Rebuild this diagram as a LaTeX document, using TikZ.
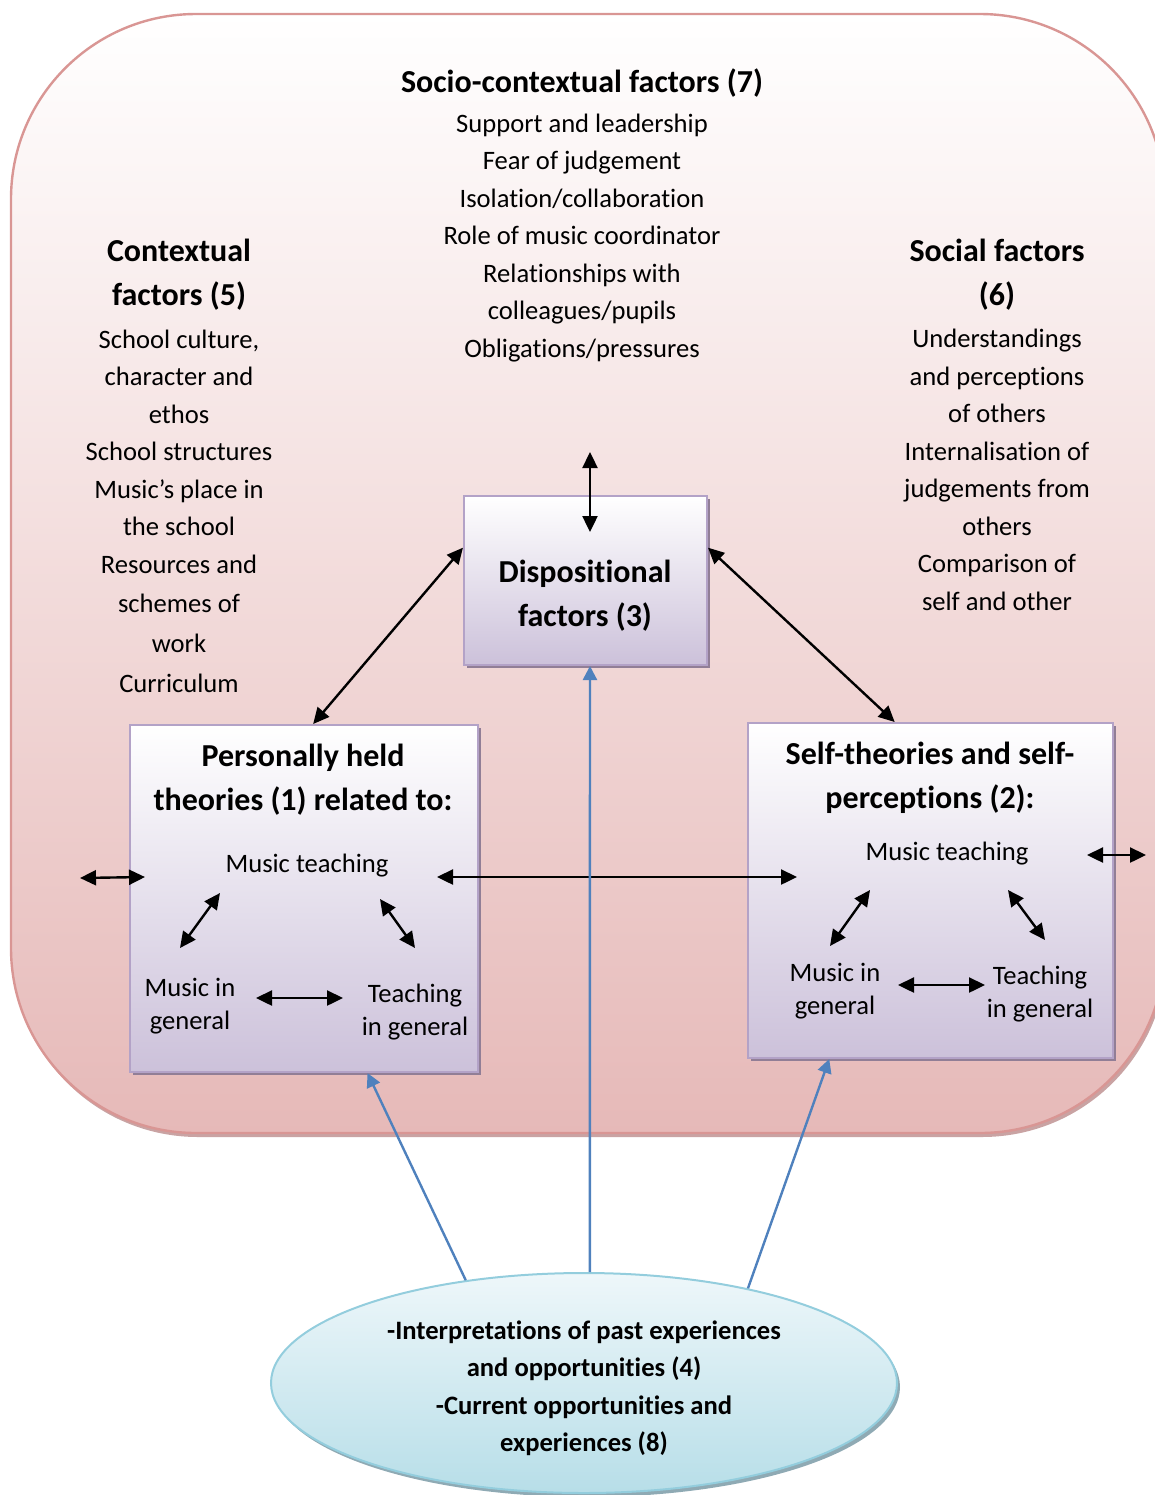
\documentclass[tikz,border=0pt]{standalone}
\usepackage{fontspec}
\setmainfont{Carlito}[Ligatures={TeX,NoCommon}]
\usetikzlibrary{arrows.meta,shapes.geometric,shadows}

\definecolor{framebot}{HTML}{E6B9B8}
\definecolor{frameline}{HTML}{D99694}
\definecolor{framedark}{HTML}{C9A3A3}
\definecolor{boxbot}{HTML}{CCC1DA}
\definecolor{boxline}{HTML}{B3A2C7}
\definecolor{boxdark}{HTML}{917E96}
\definecolor{ovaltop}{HTML}{EEF7FA}
\definecolor{ovalbot}{HTML}{B7DEE8}
\definecolor{ovalline}{HTML}{93CDDD}
\definecolor{ovaldark}{HTML}{8FAAB4}
\definecolor{feedblue}{HTML}{4F81BD}

\begin{document}
\begin{tikzpicture}[x=0.5pt, y=-0.5pt,
        factorbox/.style={rectangle, draw=boxline, line width=1pt, top color=white, bottom color=boxbot,
            drop shadow={shadow xshift=1.5pt, shadow yshift=-1.5pt, fill=boxdark, opacity=1}},
        heading/.style={font=\bfseries\fontsize{16}{22}\selectfont, align=center, inner sep=0pt},
        body/.style={font=\fontsize{13.3}{18.75}\selectfont, align=center, inner sep=0pt},
        inner/.style={font=\fontsize{13.3}{16.5}\selectfont, align=center, inner sep=0pt},
        link/.style={>={Triangle[length=8pt, width=7.5pt]}, <->, line width=1.2pt},
        feed/.style={>={Triangle[length=7pt, width=7pt]}, ->, draw=feedblue, line width=1.2pt}]

        \useasboundingbox (0,0) rectangle (1155,1495);
        \clip (0,0) rectangle (1155,1495);

        % Frame
        \fill[framedark, rounded corners=92.5pt] (13,17) rectangle (1167,1137);
        \draw[draw=frameline, line width=1.2pt, top color=white, bottom color=framebot, rounded corners=92.5pt] (11,14) rectangle (1165,1133);

        % Boxes
        \node[factorbox, minimum width=121.5pt, minimum height=84.5pt] at (585.5, 580.5) (disp) {};
        \node[factorbox, minimum width=174pt, minimum height=173.5pt] at (304, 898.5) (lbox) {};
        \node[factorbox, minimum width=182.5pt, minimum height=167.5pt] at (930.5, 890.5) (rbox) {};
        \node[ellipse, draw=ovalline, line width=1pt, top color=ovaltop, bottom color=ovalbot, minimum width=313pt, minimum height=110pt,
            drop shadow={shadow xshift=1.5pt, shadow yshift=-2pt, fill=ovaldark, opacity=1}] at (584, 1383) (oval) {};

        % Texts
        \node[heading] at (582, 83) (socioh) {Socio-contextual factors (7)};
        \node[body] at (582, 238) (socio) {Support and leadership\\Fear of judgement\\Isolation/collaboration\\Role of music coordinator\\Relationships with\\colleagues/pupils\\Obligations/pressures};

        \node[heading] at (179, 275) (ctxh) {Contextual\\factors (5)};
        \node[body] at (179, 511) (ctx) {School culture,\\character and\\ethos\\School structures\\Music’s place in\\the school\\Resources and\\[0.75pt]schemes of\\[1.25pt]work\\[1.25pt]Curriculum};

        \node[heading] at (997, 275) (soch) {Social factors\\(6)};
        \node[body] at (997, 470) (soc) {Understandings\\and perceptions\\of others\\Internalisation of\\judgements from\\others\\Comparison of\\self and other};

        \node[heading] at (585, 596) (disph) {Dispositional\\factors (3)};

        \node[heading] at (303, 780) (lboxh) {Personally held\\theories (1) related to:};
        \node[inner] at (307, 866) (mtL) {Music teaching};
        \node[inner] at (190, 1006) (mgL) {Music in\\general};
        \node[inner] at (415, 1012) (tgL) {Teaching\\in general};

        \node[heading] at (930, 778) (rboxh) {Self-theories and self-\\perceptions (2):};
        \node[inner] at (947, 854) (mtR) {Music teaching};
        \node[inner] at (835, 991) (mgR) {Music in\\general};
        \node[inner] at (1040, 994) (tgR) {Teaching\\in general};

        \node[body, font=\bfseries\fontsize{13.3}{18.75}\selectfont] at (584, 1388) (ovalt) {-Interpretations of past experiences\\and opportunities (4)\\-Current opportunities and\\experiences (8)};

        % Link ends
        \coordinate (socioend) at (590, 452);
        \coordinate (dispin) at (590, 532);
        \coordinate (ctxend) at (80, 878);
        \coordinate (lboxin) at (145, 877);
        \coordinate (lmid) at (437, 877);
        \coordinate (rmid) at (797, 877);
        \coordinate (rboxin) at (1087, 855);
        \coordinate (socend) at (1146, 855);
        \coordinate (lA1) at (220, 893);  \coordinate (lA2) at (180, 948);
        \coordinate (lB1) at (380, 899);  \coordinate (lB2) at (415, 948);
        \coordinate (lC1) at (256, 998);  \coordinate (lC2) at (343, 998);
        \coordinate (rA1) at (870, 890);  \coordinate (rA2) at (830, 946);
        \coordinate (rB1) at (1008, 890); \coordinate (rB2) at (1045, 940);
        \coordinate (rC1) at (898, 985);  \coordinate (rC2) at (985, 985);

        % Links
        \draw[link] (socioend) -- (dispin);
        \draw[link] (disp.165) -- (lbox.87);
        \draw[link] (disp.15) -- (rbox.102);
        \draw[link] (ctxend) -- (lboxin);
        \draw[link] (lmid) -- (rmid);
        \draw[link] (rboxin) -- (socend);
        \draw[link] (lA1) -- (lA2);
        \draw[link] (lB1) -- (lB2);
        \draw[link] (lC1) -- (lC2);
        \draw[link] (rA1) -- (rA2);
        \draw[link] (rB1) -- (rB2);
        \draw[link] (rC1) -- (rC2);

        \draw[feed] (oval.139) -- (lbox.290);
        \draw[feed] (oval.87) -- (disp.273);
        \draw[feed] (oval.30) -- (rbox.239);

    \end{tikzpicture}
\end{document}
